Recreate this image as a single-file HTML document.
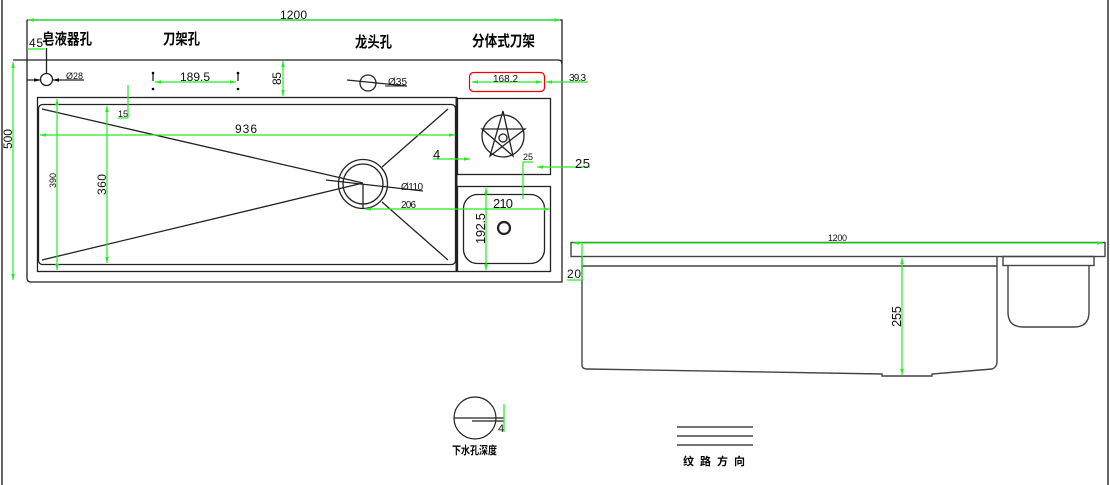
<!DOCTYPE html>
<html><head><meta charset="utf-8">
<style>
html,body{margin:0;padding:0;background:#fff;}
svg{display:block;}
text{font-family:"Liberation Sans","Noto Sans CJK SC",sans-serif;fill:#111;}
.cj{font-family:"Liberation Sans","Noto Sans CJK SC",sans-serif;font-weight:bold;fill:#000;}
</style></head>
<body>
<svg width="1110" height="485" viewBox="0 0 1110 485" xmlns="http://www.w3.org/2000/svg">
<defs>
<marker id="a" viewBox="0 0 10 6" refX="10" refY="3" markerWidth="6" markerHeight="4" orient="auto-start-reverse" markerUnits="userSpaceOnUse"><path d="M0,0 L10,3 L0,6z" fill="#22ee22"/></marker>
<marker id="b" viewBox="0 0 10 6" refX="10" refY="3" markerWidth="6" markerHeight="4" orient="auto-start-reverse" markerUnits="userSpaceOnUse"><path d="M0,0 L10,3 L0,6z" fill="#000"/></marker>
</defs>

<!-- page frame -->
<line x1="2" y1="0" x2="2" y2="485" stroke="#333" stroke-width="1.5"/>
<line x1="1108" y1="0" x2="1108" y2="485" stroke="#333" stroke-width="1.5"/>

<!-- ===== TOP VIEW ===== -->
<g fill="none" stroke="#222" stroke-width="1.3">
  <path d="M27,20 L27,278 Q27,282 31,282 L562,282 L562,20 L27,20"/>
  <path d="M13,60 L558,60 Q562,60 562,64"/>
  <!-- main sink rim -->
  <rect x="37.5" y="97.5" width="419" height="174"/>
  <line x1="456.5" y1="97" x2="456.5" y2="272" stroke-width="2"/>
  <rect x="38.5" y="104.5" width="417" height="160" rx="4"/>
  <!-- diagonals -->
  <line x1="42" y1="109" x2="363" y2="183"/>
  <line x1="42" y1="260" x2="363" y2="183"/>
  <line x1="448" y1="109" x2="382" y2="167"/>
  <line x1="448" y1="260" x2="382" y2="202"/>
  <!-- drain -->
  <circle cx="363" cy="184" r="24.5"/>
  <circle cx="363" cy="184" r="20"/>
  <line x1="326" y1="180" x2="423" y2="191"/>
  <line x1="363" y1="184" x2="363" y2="209"/>
  <!-- right boxes -->
  <rect x="457.5" y="98.5" width="93" height="76"/>
  <rect x="457.5" y="186.5" width="93" height="85"/>
  <rect x="463.5" y="194.5" width="81" height="69" rx="14"/>
  <circle cx="504" cy="228" r="6" stroke-width="2.2"/>
  <!-- star -->
  <circle cx="503" cy="136" r="21"/>
  <circle cx="503" cy="138" r="4"/>
  <path d="M503,111 L490,156 L525,129 L482,129 L513,156 Z"/>
  <!-- soap hole -->
  <circle cx="46.5" cy="79.5" r="6"/>
  <line x1="46.5" y1="48" x2="46.5" y2="73.5"/>
  <line x1="27" y1="80" x2="40" y2="80" marker-end="url(#b)"/>
  <line x1="84" y1="80" x2="53" y2="80" marker-end="url(#b)"/>
  <!-- knife rack holes -->
  <line x1="153" y1="73" x2="153" y2="81"/>
  <line x1="238" y1="73" x2="238" y2="81"/>
  <!-- faucet hole -->
  <circle cx="368" cy="83" r="8"/>
  <line x1="347" y1="80" x2="407" y2="86"/>
</g>
<circle cx="153" cy="73" r="1.3" fill="#000"/>
<circle cx="153" cy="89" r="1.3" fill="#000"/>
<circle cx="238" cy="73" r="1.3" fill="#000"/>
<circle cx="238" cy="89" r="1.3" fill="#000"/>
<rect x="469.5" y="72.5" width="75" height="19" rx="4" fill="none" stroke="#e00" stroke-width="1.2"/>

<!-- green dimension lines (top view) -->
<g stroke="#22ee22" stroke-width="1.2" fill="none">
  <line x1="28" y1="20" x2="560" y2="20" marker-start="url(#a)" marker-end="url(#a)"/>
  <line x1="27" y1="49" x2="45" y2="49"/>
  <line x1="155" y1="82" x2="236" y2="82" marker-start="url(#a)" marker-end="url(#a)"/>
  <line x1="283" y1="61" x2="283" y2="96" marker-start="url(#a)" marker-end="url(#a)"/>
  <line x1="128" y1="85" x2="128" y2="118"/>
  <line x1="118" y1="118" x2="128" y2="118"/>
  <line x1="40" y1="135" x2="455" y2="135" marker-start="url(#a)" marker-end="url(#a)"/>
  <line x1="13" y1="62" x2="13" y2="280" marker-start="url(#a)" marker-end="url(#a)"/>
  <line x1="57" y1="99" x2="57" y2="270" marker-start="url(#a)" marker-end="url(#a)"/>
  <line x1="107" y1="106" x2="107" y2="263" marker-start="url(#a)" marker-end="url(#a)"/>
  <line x1="472" y1="82" x2="542" y2="82" marker-start="url(#a)" marker-end="url(#a)"/>
  <line x1="588" y1="82" x2="546" y2="82" marker-end="url(#a)"/>
  <line x1="433" y1="159" x2="470" y2="159" marker-end="url(#a)"/>
  <polyline points="533,162 523,162 523,199"/>
  <line x1="590" y1="167" x2="537" y2="167" marker-end="url(#a)"/>
  <line x1="365" y1="209" x2="550" y2="209" marker-start="url(#a)" marker-end="url(#a)"/>
  <line x1="486" y1="188" x2="486" y2="270" marker-start="url(#a)" marker-end="url(#a)"/>
</g>
<line x1="385" y1="86" x2="407" y2="86" stroke="#222" stroke-width="1"/>

<!-- labels top view -->
<text class="cj" x="42" y="44" font-size="15" textLength="50" lengthAdjust="spacingAndGlyphs">皂液器孔</text>
<text class="cj" x="163" y="44" font-size="15" textLength="37" lengthAdjust="spacingAndGlyphs">刀架孔</text>
<text class="cj" x="355" y="47" font-size="15" textLength="37" lengthAdjust="spacingAndGlyphs">龙头孔</text>
<text class="cj" x="472" y="46" font-size="15" textLength="63" lengthAdjust="spacingAndGlyphs">分体式刀架</text>

<text x="280" y="19" font-size="12" textLength="27">1200</text>
<text x="29" y="47" font-size="12" textLength="14">45</text>
<text x="66" y="79" font-size="9" textLength="17">Ø28</text>
<text x="180" y="81" font-size="12" textLength="30">189.5</text>
<text transform="translate(281,85) rotate(-90)" font-size="12" textLength="13">85</text>
<text x="118" y="117" font-size="9" textLength="10">15</text>
<text x="235" y="133" font-size="12" textLength="22">936</text>
<text transform="translate(12,149) rotate(-90)" font-size="12" textLength="20">500</text>
<text transform="translate(56,188) rotate(-90)" font-size="9" textLength="15">390</text>
<text transform="translate(106,195) rotate(-90)" font-size="12" textLength="21">360</text>
<text x="388" y="85" font-size="10" textLength="19">Ø35</text>
<text x="493" y="82" font-size="10" textLength="25">168.2</text>
<text x="569" y="81" font-size="10" textLength="17">39.3</text>
<text x="433" y="159" font-size="13" textLength="7">4</text>
<text x="523" y="160" font-size="9" textLength="10">25</text>
<text x="575" y="168" font-size="13" textLength="15">25</text>
<text x="493" y="208" font-size="13" textLength="20">210</text>
<text transform="translate(485,244) rotate(-90)" font-size="13" textLength="31">192.5</text>
<text x="401" y="208" font-size="10" textLength="15">206</text>
<text x="401" y="190" font-size="10" textLength="22">Ø110</text>

<!-- ===== SIDE VIEW ===== -->
<g fill="none" stroke="#444" stroke-width="1.4">
  <rect x="571" y="242.5" width="534" height="14"/>
  <line x1="582" y1="266" x2="997" y2="266"/>
  <path d="M582,256 L582,365 Q582,369 587,369 L882,374 L882,376 L932,376 L932,374 L992,369 Q997,367 997,362 L997,256"/>
  <rect x="1003" y="256.5" width="91" height="9"/>
  <path d="M1008,266 L1008,312 Q1008,327 1023,327 L1074,327 Q1089,327 1089,312 L1089,266"/>
</g>
<g stroke="#22ee22" stroke-width="1.2" fill="none">
  <line x1="573" y1="243" x2="1103" y2="243" marker-start="url(#a)" marker-end="url(#a)"/>
  <line x1="582" y1="244" x2="582" y2="280"/>
  <line x1="567" y1="280" x2="582" y2="280"/>
  <line x1="902" y1="258" x2="902" y2="375" marker-start="url(#a)" marker-end="url(#a)"/>
</g>
<text x="828" y="241" font-size="9" textLength="19">1200</text>
<text x="567" y="278" font-size="12" textLength="14">20</text>
<text transform="translate(901,327) rotate(-90)" font-size="13" textLength="21">255</text>

<!-- ===== BOTTOM LEGEND ===== -->
<g fill="none" stroke="#222" stroke-width="1.2">
  <circle cx="475" cy="418" r="21"/>
  <line x1="454" y1="418" x2="504" y2="418"/>
  <line x1="472" y1="421" x2="504" y2="421"/>
  <line x1="677" y1="427" x2="753" y2="427"/>
  <line x1="677" y1="436" x2="753" y2="436"/>
  <line x1="677" y1="445" x2="753" y2="445"/>
</g>
<line x1="504" y1="404" x2="504" y2="432" stroke="#22ee22" stroke-width="1.2"/>
<text x="498" y="432" font-size="11" textLength="7">4</text>
<text class="cj" x="452" y="454" font-size="11" textLength="45" lengthAdjust="spacingAndGlyphs">下水孔深度</text>
<text class="cj" x="683" y="465" font-size="11" letter-spacing="6">纹路方向</text>
</svg>
</body></html>
